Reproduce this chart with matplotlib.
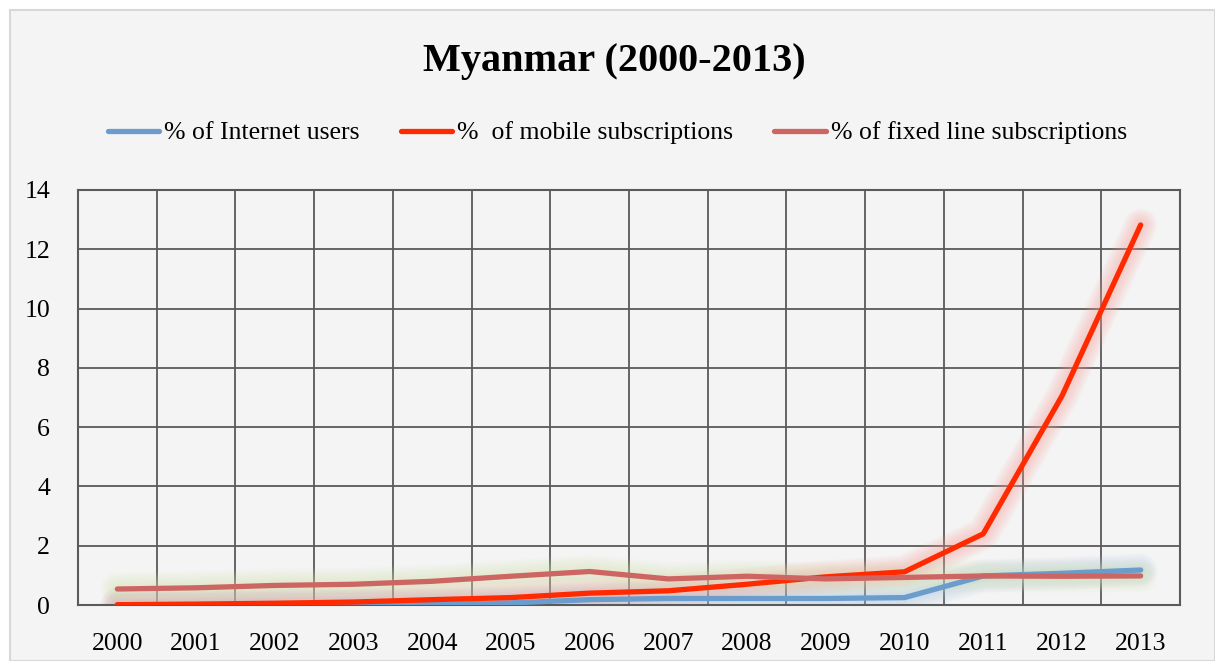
import numpy as np
import matplotlib
matplotlib.use('Agg')
import matplotlib.pyplot as plt
from matplotlib.patches import Rectangle

years = ['2000', '2001', '2002', '2003', '2004', '2005', '2006',
         '2007', '2008', '2009', '2010', '2011', '2012', '2013']
internet = [0.0, 0.0, 0.02, 0.02, 0.02, 0.07, 0.18, 0.22, 0.22, 0.22, 0.25, 0.98, 1.07, 1.18]
mobile = [0.01, 0.03, 0.06, 0.1, 0.18, 0.25, 0.4, 0.48, 0.7, 0.95, 1.12, 2.4, 7.05, 12.82]
fixed = [0.54, 0.58, 0.66, 0.7, 0.8, 0.97, 1.13, 0.88, 0.97, 0.88, 0.93, 0.98, 0.97, 0.98]

series = [
    ('% of Internet users', internet, '#6a9ccc', '#a8c8e8'),
    ('%  of mobile subscriptions', mobile, '#ff2a00', '#f5a098'),
    ('% of fixed line subscriptions', fixed, '#cd6663', '#d8e4b0'),
]

plt.rcParams['font.family'] = ['Liberation Serif', 'DejaVu Serif']

fig = plt.figure(figsize=(12.15, 6.61), dpi=100)
fig.patch.set_facecolor('white')
fig.patches.append(Rectangle((10/1215, 0), 1 - 10/1215, 1 - 10/661,
                             transform=fig.transFigure, facecolor='#f4f4f4',
                             edgecolor='#d8d8d8', lw=1.5, zorder=-10))

ax = fig.add_axes([78/1215, 56/661, 1102/1215, 415/661])
ax.set_facecolor('#f4f4f4')
x = np.arange(len(years))

handles = []
for label, vals, col, glow in series:
    # soft glow behind each line, many thin layers so it fades smoothly
    for w in range(24, 5, -2):
        ax.plot(x, vals, color=glow, lw=w, alpha=0.05, solid_capstyle='round',
                solid_joinstyle='round', zorder=2)
for label, vals, col, glow in series:
    h, = ax.plot(x, vals, color=col, lw=3.8, solid_capstyle='round',
                 solid_joinstyle='round', zorder=3, label=label)
    handles.append(h)

ax.set_xlim(-0.5, len(years) - 0.5)
ax.set_ylim(0, 14)
ax.set_yticks(np.arange(0, 15, 2))
ax.set_xticks(np.arange(-0.5, len(years), 1), minor=False)
ax.set_xticklabels([])
ax.set_xticks(x, minor=True)
ax.set_xticklabels(years, minor=True)
ax.tick_params(axis='x', which='both', length=0, pad=20, labelsize=18.5)
ax.tick_params(axis='y', length=0, pad=20, labelsize=18.5)
ax.grid(True, which='major', color='#5a5a5a', lw=1.3, zorder=1)
for s in ax.spines.values():
    s.set_color('#5a5a5a')
    s.set_linewidth(1.5)

fig.text(0.506, 1 - 62/661, 'Myanmar (2000-2013)', ha='center', va='center',
         fontsize=29, fontweight='bold')
fig.legend(handles=handles, loc='center', bbox_to_anchor=(0.508, 1 - 133/661),
           ncol=3, frameon=False, fontsize=18.5, handlelength=2.0,
           handletextpad=0.2, columnspacing=1.6)

fig.savefig('out.png', dpi=100, facecolor=fig.get_facecolor())
